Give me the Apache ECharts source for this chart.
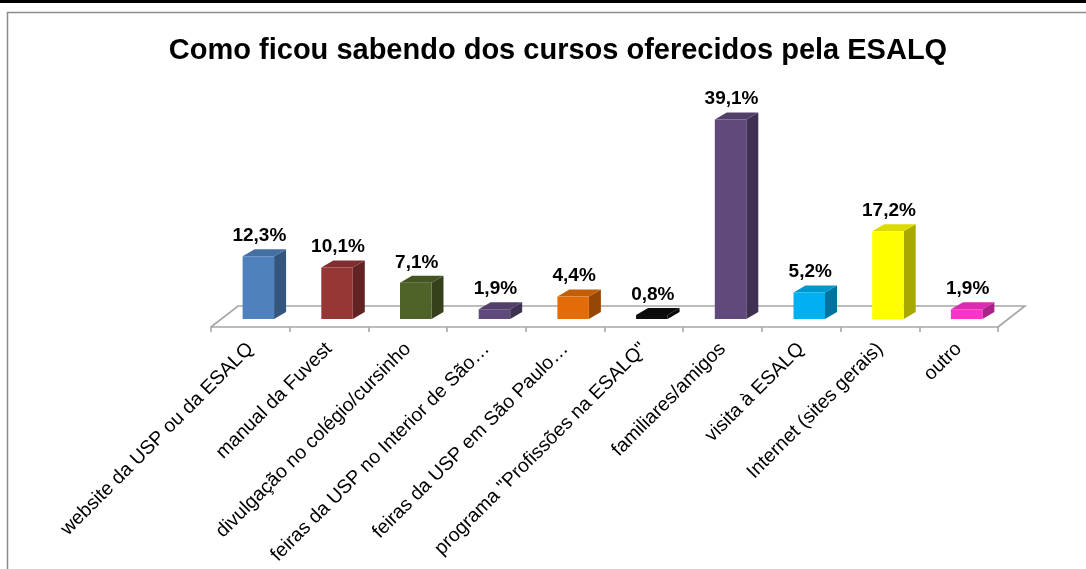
<!DOCTYPE html>
<html lang="pt">
<head>
    <meta charset="utf-8">
    <title>Como ficou sabendo dos cursos</title>
    <script src="https://cdn.jsdelivr.net/npm/echarts@6/dist/echarts.min.js"></script>
    <style>
        html, body { margin: 0; padding: 0; background: #fff; }
    </style>
</head>
<body>
    <div id="main" style="width:1086px;height:569px;"></div>

    <script type="text/javascript">
    // categorias e valores (%)
    var categorias = [
        'website da USP ou da ESALQ',
        'manual da Fuvest',
        'divulgação no colégio/cursinho',
        'feiras da USP no Interior de São…',
        'feiras da USP em São Paulo…',
        'programa "Profissões na ESALQ"',
        'familiares/amigos',
        'visita à ESALQ',
        'Internet (sites gerais)',
        'outro'
    ];
    var valores = [12.3, 10.1, 7.1, 1.9, 4.4, 0.8, 39.1, 5.2, 17.2, 1.9];
    var cores = ['#4f81bd', '#953735', '#4f6228', '#604a7b', '#e36c09',
                 '#0d0d0d', '#604a7b', '#00b0f0', '#ffff00', '#ff33cc'];

    // deslocamentos da "perspectiva"
    var OX = 8, OY = -8;      // face frontal em relação ao plano da frente
    var DX = 12, DY = -7;     // profundidade da barra
    var FX = 27, FY = -21;    // profundidade do piso

    function shade(hex, f) {
        var n = parseInt(hex.slice(1), 16);
        var r = Math.round(((n >> 16) & 255) * f),
            g = Math.round(((n >> 8) & 255) * f),
            b = Math.round((n & 255) * f);
        return 'rgb(' + r + ',' + g + ',' + b + ')';
    }

    function rotulo(v) {
        return v.toFixed(1).replace('.', ',') + '%';
    }

    var renderBar = function (params, api) {
        var i = api.value(0), v = api.value(1);
        var base = api.coord([i, 0]);
        var topo = api.coord([i, v]);
        var bw = api.size([1, 0])[0];
        var w = bw * 0.4;
        var xl = base[0] - w / 2 + OX, xr = xl + w;
        var yb = base[1] + OY, yt = topo[1] + OY;
        var c = cores[i];
        return {
            type: 'group',
            children: [{
                type: 'polygon',
                shape: { points: [[xr, yt], [xr + DX, yt + DY], [xr + DX, yb + DY], [xr, yb]] },
                style: { fill: shade(c, 0.66) }
            }, {
                type: 'polygon',
                shape: { points: [[xl, yt], [xl + DX, yt + DY], [xr + DX, yt + DY], [xr, yt]] },
                style: { fill: shade(c, 0.86) }
            }, {
                type: 'rect',
                shape: { x: xl, y: yt, width: w, height: yb - yt },
                style: { fill: c }
            }, {
                type: 'text',
                style: {
                    text: rotulo(v),
                    x: (xl + xr) / 2 + 1,
                    y: yt + DY - 4,
                    align: 'center',
                    verticalAlign: 'bottom',
                    fontFamily: 'Arial',
                    fontWeight: 'bold',
                    fontSize: 19,
                    fill: '#000'
                }
            }]
        };
    };

    var renderFloor = function (params, api) {
        var base = api.coord([0, 0]);
        var bw = api.size([1, 0])[0];
        var left = base[0] - bw / 2;
        var right = left + bw * categorias.length;
        var y = base[1];
        return {
            type: 'polyline',
            shape: { points: [[left, y], [left + FX, y + FY], [right + FX, y + FY], [right, y]] },
            style: { stroke: '#a6a6a6', lineWidth: 1.6, fill: null }
        };
    };

    var myChart = echarts.init(document.getElementById('main'));

    myChart.setOption({
        backgroundColor: '#fff',
        animation: false,
        title: {
            text: 'Como ficou sabendo dos cursos oferecidos pela ESALQ',
            left: 553,
            top: 31,
            textAlign: 'center',
            textStyle: {
                fontFamily: 'Arial',
                fontWeight: 'bold',
                fontSize: 29,
                color: '#000'
            }
        },
        graphic: [{
            type: 'rect',
            shape: { x: 0, y: 0, width: 1086, height: 3 },
            style: { fill: '#000' }
        }, {
            type: 'rect',
            shape: { x: 7.5, y: 12.5, width: 1100, height: 600 },
            style: { fill: null, stroke: '#8c8c8c', lineWidth: 1.5 }
        }],
        grid: {
            left: 211,
            right: 88,
            top: 123,
            bottom: 242
        },
        xAxis: {
            type: 'category',
            data: categorias,
            axisLine: { lineStyle: { color: '#a6a6a6', width: 1.6 } },
            axisTick: { show: true, length: 5, lineStyle: { color: '#a6a6a6', width: 1.6 } },
            axisLabel: {
                interval: 0,
                rotate: 45,
                margin: 19,
                fontFamily: 'Arial',
                fontSize: 19.5,
                color: '#000'
            }
        },
        yAxis: {
            type: 'value',
            min: 0,
            max: 40,
            show: false,
            splitLine: { show: false }
        },
        series: [{
            type: 'custom',
            name: 'piso',
            renderItem: renderFloor,
            data: [[0, 0]],
            encode: { x: 0, y: 1 },
            z: 1,
            silent: true
        }, {
            type: 'custom',
            name: 'barras',
            renderItem: renderBar,
            data: valores.map(function (v, i) { return [i, v]; }),
            encode: { x: 0, y: 1 },
            z: 2
        }]
    });
    </script>
</body>
</html>
